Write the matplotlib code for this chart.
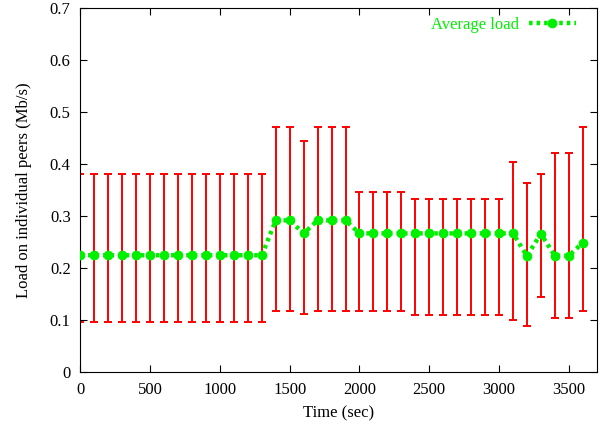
import matplotlib
matplotlib.use('Agg')
import matplotlib.pyplot as plt
import numpy as np

plt.rcParams['font.family'] = ['Liberation Serif', 'DejaVu Serif']

# time in seconds, one sample every 100 s
time = list(range(0, 3700, 100))
avg_load = [0.225] * 14 + [0.292, 0.292, 0.267, 0.292, 0.292, 0.292] + [0.267] * 12 + \
           [0.224, 0.266, 0.224, 0.224, 0.249]
err_low = [0.096] * 14 + [0.117, 0.117, 0.112, 0.117, 0.117, 0.117] + [0.117] * 4 + [0.111] * 7 + \
          [0.100, 0.090, 0.145, 0.105, 0.105, 0.117]
err_high = [0.382] * 14 + [0.472, 0.472, 0.444, 0.472, 0.472, 0.472] + [0.347] * 4 + [0.333] * 7 + \
           [0.404, 0.363, 0.381, 0.422, 0.422, 0.472]

avg = np.array(avg_load)
lo = avg - np.array(err_low)
hi = np.array(err_high) - avg

fig = plt.figure(figsize=(6, 4.32), dpi=100)
ax = fig.add_axes([0.134, 0.138, 0.8605, 0.8435])

ax.errorbar(time, avg, yerr=[lo, hi], fmt='none', ecolor='#ff0000',
            elinewidth=1.4, capsize=3, capthick=1.4, zorder=2)
ax.plot(time, avg, color='#00f000', linestyle=(0, (0.8, 0.9)), linewidth=3.2,
        marker='o', markersize=6, label='Average load', zorder=3)

ax.set_xlim(0, 3700)
ax.set_ylim(0, 0.7)
ax.set_xticks(range(0, 3600, 500))
ax.set_yticks(np.arange(0, 0.71, 0.1))
ax.set_yticklabels(['0', '0.1', '0.2', '0.3', '0.4', '0.5', '0.6', '0.7'])
ax.tick_params(direction='in', top=True, right=True, length=5, labelsize=12, pad=7)
ax.set_xlabel('Time (sec)', fontsize=12, labelpad=5)
ax.set_ylabel('Load on individual peers (Mb/s)', fontsize=12, labelpad=13)

leg = ax.legend(loc='upper right', bbox_to_anchor=(0.982, 1.008), frameon=False,
                markerfirst=False, numpoints=1, fontsize=12, handlelength=2.8,
                handletextpad=0.6, borderaxespad=0.3)
for t in leg.get_texts():
    t.set_color('#00f000')

fig.savefig('out.png', dpi=100)
